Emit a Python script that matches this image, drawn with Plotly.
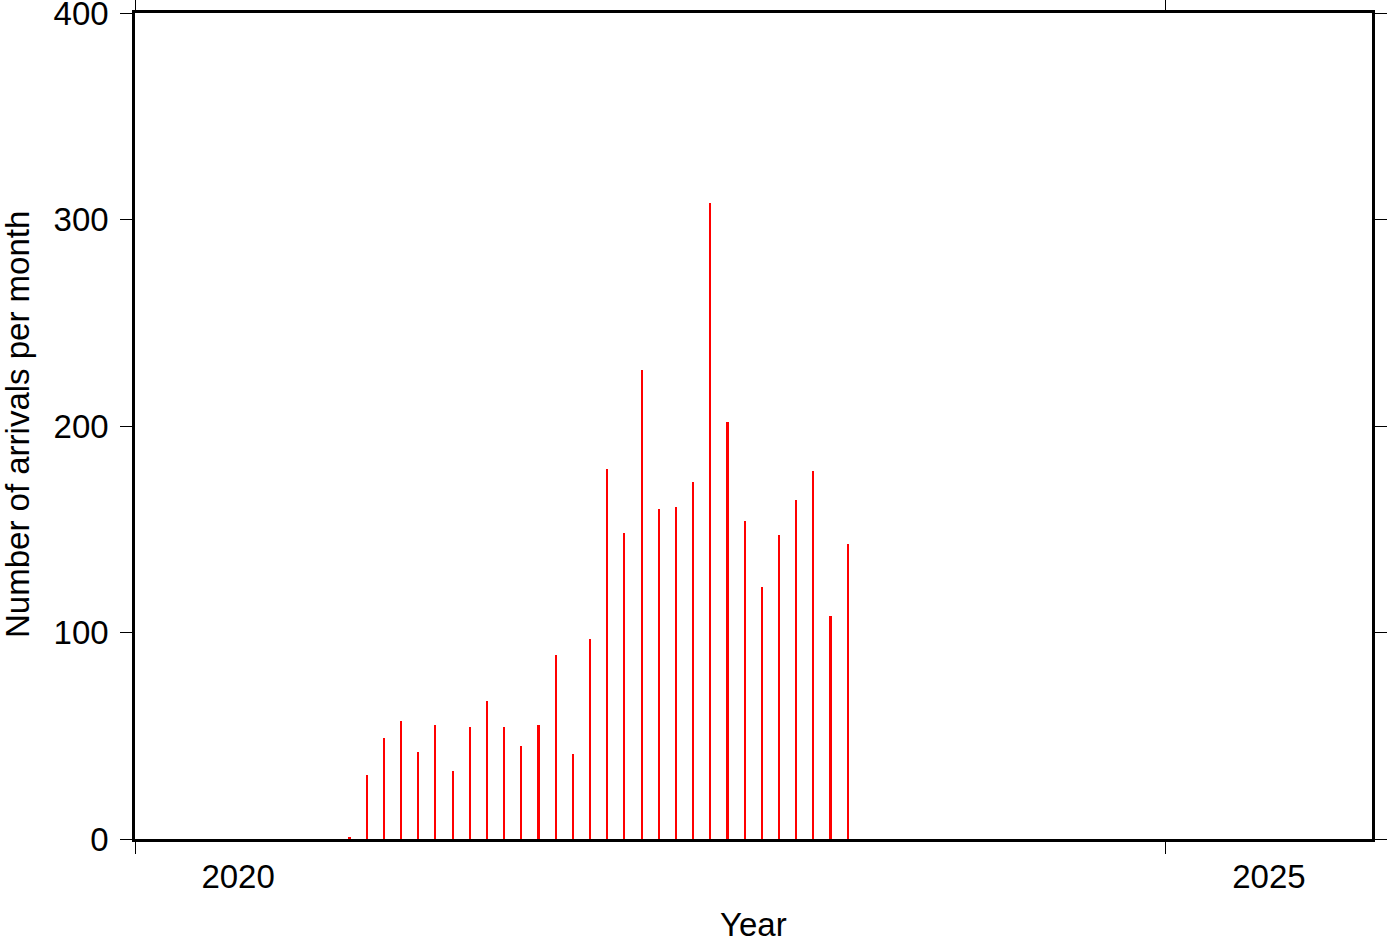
import plotly.graph_objects as go
import pandas as pd

months = pd.date_range("2021-01-01", "2023-06-01", freq="MS").strftime("%Y-%m").tolist()
arrivals = [1, 31, 49, 57, 42, 55, 33, 54, 67, 54, 45, 55, 89, 41, 97,
            179, 148, 227, 160, 161, 173, 308, 202, 154, 122, 147, 164, 178, 108, 143]
year_ticks = [2020, 2025]
year_labels = ["2020", "2025"]
y_ticks = [0, 100, 200, 300, 400]

dt = pd.to_datetime(months)
x_dec = [d.year + (d.month - 0.5) / 12 for d in dt]

FONT = "Liberation Sans, Arial, Helvetica, sans-serif"
FS = 33

W, H = 1387, 942
L, T = 135, 13
PW, PH = 1237, 826
R, B = W - L - PW, H - T - PH


def px_x(page_x):
    return (page_x - L) / PW


def px_y(page_y):
    return (T + PH - page_y) / PH


fig = go.Figure()
fig.add_trace(go.Bar(x=x_dec, y=arrivals, width=0.008,
                     marker=dict(color="#ff0000", line=dict(width=0)),
                     showlegend=False))
fig.add_trace(go.Scatter(x=[2020, 2026], y=[0, 0], xaxis="x2", mode="none",
                         showlegend=False, hoverinfo="skip"))

fig.update_layout(
    width=W, height=H,
    margin=dict(l=L, r=R, t=T, b=B, autoexpand=False),
    plot_bgcolor="white", paper_bgcolor="white",
    font=dict(family=FONT, size=FS, color="black"),
    bargap=0,
    xaxis=dict(range=[2020, 2026], tickvals=year_ticks, ticktext=["", ""],
               ticks="outside", ticklen=12, tickwidth=1, tickcolor="black",
               showline=True, linewidth=2.5, linecolor="black", mirror="ticks",
               showgrid=False, zeroline=False, automargin=False),
    xaxis2=dict(range=[2020, 2026], overlaying="x", side="bottom", anchor="y",
                tickvals=[v + 0.5 for v in year_ticks], ticktext=year_labels,
                ticks="outside", ticklen=8, tickcolor="rgba(0,0,0,0)",
                showline=False, showgrid=False, zeroline=False,
                tickfont=dict(size=FS), automargin=False,
                ticklabeloverflow="allow"),
    yaxis=dict(range=[0, 400], tickvals=y_ticks,
               ticks="outside", ticklen=12, tickwidth=1, tickcolor="black",
               showline=True, linewidth=2.5, linecolor="black", mirror="ticks",
               showgrid=False, zeroline=False, automargin=False,
               tickfont=dict(size=FS), ticklabelstandoff=5,
               ticklabeloverflow="allow"),
    annotations=[
        dict(text="Year", xref="paper", yref="paper",
             x=0.5, y=px_y(924),
             xanchor="center", yanchor="middle", showarrow=False,
             font=dict(size=FS)),
        dict(text="Number of arrivals per month", xref="paper", yref="paper",
             x=px_x(17), y=px_y(425), textangle=-90,
             xanchor="center", yanchor="middle", showarrow=False,
             font=dict(size=FS)),
    ],
)

fig.write_html(
    "out.html",
    config={"displayModeBar": False},
    post_script="document.body.style.margin='0';document.body.style.overflow='hidden';",
)
